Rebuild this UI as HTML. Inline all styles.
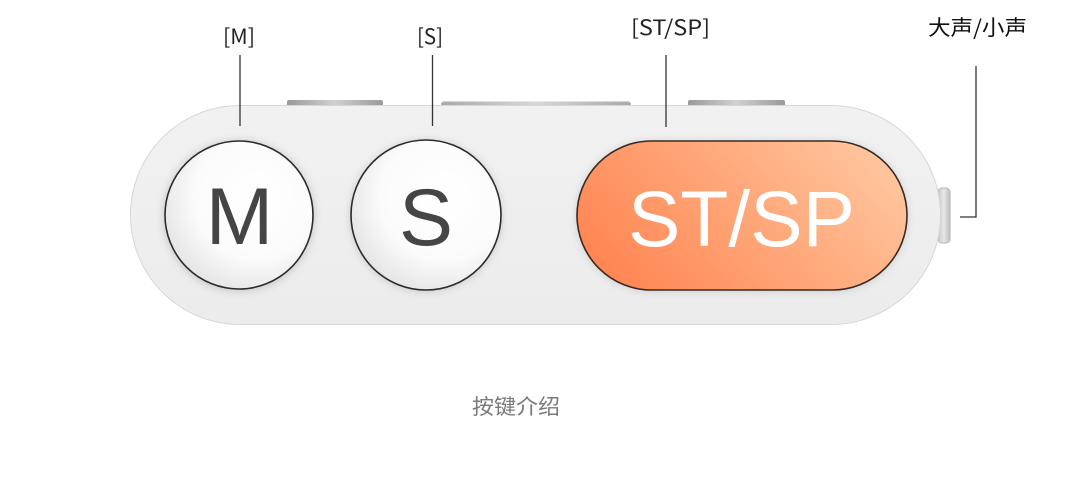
<!DOCTYPE html>
<html><head><meta charset="utf-8"><style>
html,body{margin:0;padding:0;background:#fff;}
body{width:1080px;height:485px;overflow:hidden;}
svg{display:block;}
</style></head><body>
<svg width="1080" height="485" viewBox="0 0 1080 485" xmlns="http://www.w3.org/2000/svg">
<defs>
<linearGradient id="body" x1="0" y1="0" x2="0" y2="1">
<stop offset="0" stop-color="#f1f1f1"/><stop offset="1" stop-color="#ececec"/>
</linearGradient>
<linearGradient id="tab" x1="0" y1="0" x2="1" y2="0">
<stop offset="0" stop-color="#9a9a9a"/><stop offset="0.5" stop-color="#d0d0d0"/><stop offset="1" stop-color="#9a9a9a"/>
</linearGradient>
<radialGradient id="btn" cx="0.62" cy="0.38" r="0.7">
<stop offset="0" stop-color="#ffffff"/><stop offset="0.6" stop-color="#fbfbfb"/><stop offset="1" stop-color="#e2e2e2"/>
</radialGradient>
<linearGradient id="org" x1="0" y1="0.7" x2="1" y2="0.3">
<stop offset="0" stop-color="#ff8552"/><stop offset="0.5" stop-color="#ffa577"/><stop offset="1" stop-color="#ffc59d"/>
</linearGradient>
<filter id="sh" x="-20%" y="-20%" width="140%" height="140%">
<feGaussianBlur stdDeviation="4"/>
</filter>
<linearGradient id="side" x1="0" y1="0" x2="1" y2="0">
<stop offset="0" stop-color="#c8c8c8"/><stop offset="0.5" stop-color="#e8e8e8"/><stop offset="1" stop-color="#bdbdbd"/>
</linearGradient>
</defs>

<!-- top tabs -->
<rect x="287" y="100" width="96" height="7" rx="2" fill="url(#tab)"/>
<rect x="441" y="101.5" width="190" height="6" rx="3" fill="url(#tab)" opacity="0.85"/>
<rect x="688" y="100" width="97" height="7" rx="2" fill="url(#tab)"/>

<!-- side button -->
<rect x="938" y="188" width="12" height="55" rx="4" fill="url(#side)" stroke="#b5b5b5" stroke-width="1"/>

<!-- body -->
<rect x="130.5" y="105.5" width="810" height="219" rx="109.5" fill="url(#body)" stroke="#d6d6d6" stroke-width="1"/>

<!-- shadows -->
<circle cx="239" cy="216" r="76" fill="#bdbdbd" filter="url(#sh)" opacity="0.7"/>
<circle cx="426" cy="216" r="76" fill="#bdbdbd" filter="url(#sh)" opacity="0.7"/>
<rect x="576" y="141" width="332" height="151" rx="75.5" fill="#c4c4c4" filter="url(#sh)" opacity="0.7"/>

<!-- buttons -->
<circle cx="239" cy="215" r="74" fill="url(#btn)" stroke="#2b2b2b" stroke-width="1.6"/>
<circle cx="426" cy="215" r="75" fill="url(#btn)" stroke="#2b2b2b" stroke-width="1.6"/>
<rect x="577" y="141" width="330" height="149" rx="74.5" fill="url(#org)" stroke="#3a2a22" stroke-width="1.6"/>

<text x="239.5" y="244" text-anchor="middle" font-family="Liberation Sans, sans-serif" font-size="81" fill="#454545">M</text>
<text x="426" y="245" text-anchor="middle" font-family="Liberation Sans, sans-serif" font-size="81" fill="#454545">S</text>
<text x="741.5" y="246" text-anchor="middle" font-family="Liberation Sans, sans-serif" font-size="79" fill="#ffffff" textLength="227" lengthAdjust="spacingAndGlyphs">ST/SP</text>

<!-- leader lines -->
<g stroke="#333" stroke-width="1.3" fill="none">
<line x1="240" y1="55" x2="240" y2="126"/>
<line x1="432.5" y1="55" x2="432.5" y2="126"/>
<line x1="666" y1="55" x2="666" y2="127"/>
<polyline points="976,66 976,217 960,217"/>
</g>

<!-- labels -->
<g font-family="'Noto Sans CJK SC', 'Liberation Sans', sans-serif" font-size="21" fill="#222">
<text x="223" y="44" textLength="32" lengthAdjust="spacingAndGlyphs">[M]</text>
<text x="417" y="44" textLength="26" lengthAdjust="spacingAndGlyphs">[S]</text>
<text x="631" y="35" textLength="79" lengthAdjust="spacingAndGlyphs">[ST/SP]</text>
<text x="928" y="35" textLength="99" lengthAdjust="spacingAndGlyphs" fill="#111">大声/小声</text>
</g>
<text x="472" y="414" textLength="88" lengthAdjust="spacingAndGlyphs" font-family="'Noto Sans CJK SC', 'Liberation Sans', sans-serif" font-size="21" fill="#7a7a7a">按键介绍</text>
</svg>
</body></html>
